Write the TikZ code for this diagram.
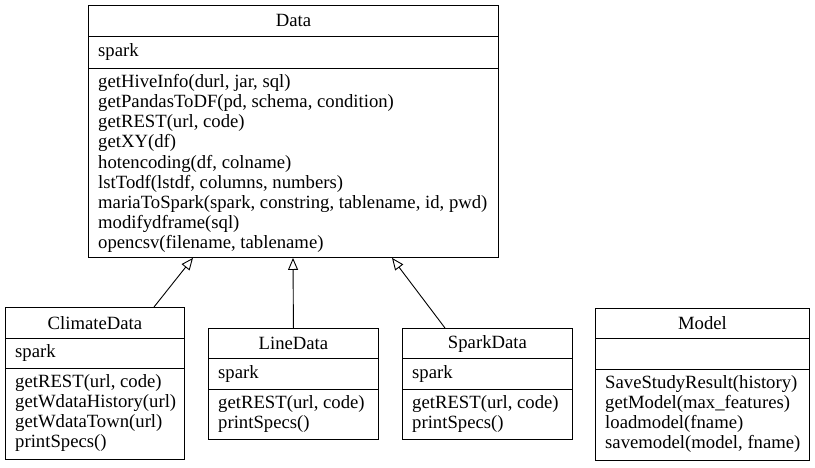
\documentclass[tikz,border=0pt]{standalone}
\usepackage{fontspec}
\setmainfont{Liberation Serif}
\usetikzlibrary{arrows.meta,calc}
\newcommand{\umlfont}{\fontsize{18.7}{20.2}\selectfont}
\begin{document}
\begin{tikzpicture}[x=1pt,y=-1pt,
  cls/.style={draw, line width=0.9pt, inner sep=0pt, anchor=north west},
  ttl/.style={inner sep=0pt, font=\umlfont},
  txt/.style={inner sep=0pt, anchor=north west, align=left, font=\umlfont},
  sep/.style={line width=0.9pt},
  inh/.style={line width=0.9pt, -{Triangle[open, length=12pt, width=10pt]}}]
\useasboundingbox (0,0) rectangle (815,467);
% Data
\node[cls, minimum width=410pt, minimum height=252pt] (data) at (88,5) {};
\draw[sep] ($(data.north west)+(0,31)$) -- ($(data.north east)+(0,31)$);
\draw[sep] ($(data.north west)+(0,63)$) -- ($(data.north east)+(0,63)$);
\node[ttl] (datat) at ($(data.north)+(0,15.5)$) {Data};
\node[txt] (dataa) at ($(data.north west)+(10,38)$) {spark};
\node[txt] (datam) at ($(data.north west)+(10,69)$) {getHiveInfo(durl, jar, sql)\\getPandasToDF(pd, schema, condition)\\getREST(url, code)\\getXY(df)\\hotencoding(df, colname)\\lstTodf(lstdf, columns, numbers)\\mariaToSpark(spark, constring, tablename, id, pwd)\\modifydframe(sql)\\opencsv(filename, tablename)};
% ClimateData
\node[cls, minimum width=179pt, minimum height=152pt] (climate) at (5,307) {};
\draw[sep] ($(climate.north west)+(0,31)$) -- ($(climate.north east)+(0,31)$);
\draw[sep] ($(climate.north west)+(0,61)$) -- ($(climate.north east)+(0,61)$);
\node[ttl] (climatet) at ($(climate.north)+(0,16)$) {ClimateData};
\node[txt] (climatea) at ($(climate.north west)+(10,37)$) {spark};
\node[txt] (climatem) at ($(climate.north west)+(10,67)$) {getREST(url, code)\\getWdataHistory(url)\\getWdataTown(url)\\printSpecs()};
% LineData
\node[cls, minimum width=170pt, minimum height=111pt] (line) at (208,328) {};
\draw[sep] ($(line.north west)+(0,30)$) -- ($(line.north east)+(0,30)$);
\draw[sep] ($(line.north west)+(0,61)$) -- ($(line.north east)+(0,61)$);
\node[ttl] (linet) at ($(line.north)+(0,15.5)$) {LineData};
\node[txt] (linea) at ($(line.north west)+(10,37)$) {spark};
\node[txt] (linem) at ($(line.north west)+(10,67)$) {getREST(url, code)\\printSpecs()};
% SparkData
\node[cls, minimum width=170pt, minimum height=111pt] (sparkd) at (402,328) {};
\draw[sep] ($(sparkd.north west)+(0,30)$) -- ($(sparkd.north east)+(0,30)$);
\draw[sep] ($(sparkd.north west)+(0,61)$) -- ($(sparkd.north east)+(0,61)$);
\node[ttl] (sparkt) at ($(sparkd.north)+(0,15.5)$) {SparkData};
\node[txt] (sparka) at ($(sparkd.north west)+(10,37)$) {spark};
\node[txt] (sparkm) at ($(sparkd.north west)+(10,67)$) {getREST(url, code)\\printSpecs()};
% Model
\node[cls, minimum width=214pt, minimum height=152pt] (model) at (595,308) {};
\draw[sep] ($(model.north west)+(0,30)$) -- ($(model.north east)+(0,30)$);
\draw[sep] ($(model.north west)+(0,61)$) -- ($(model.north east)+(0,61)$);
\node[ttl] (modelt) at ($(model.north)+(0,15.5)$) {Model};
\node[txt] (modelm) at ($(model.north west)+(10,67)$) {SaveStudyResult(history)\\getModel(max\_features)\\loadmodel(fname)\\savemodel(model, fname)};
% inheritance
\draw[inh] ($(climate.north west)+(149,0)$) -- ($(data.south west)+(105,0)$);
\draw[inh] (line.north) -- ($(data.south west)+(205,0)$);
\draw[inh] ($(sparkd.north west)+(43,0)$) -- ($(data.south west)+(304,0)$);
\end{tikzpicture}
\end{document}
